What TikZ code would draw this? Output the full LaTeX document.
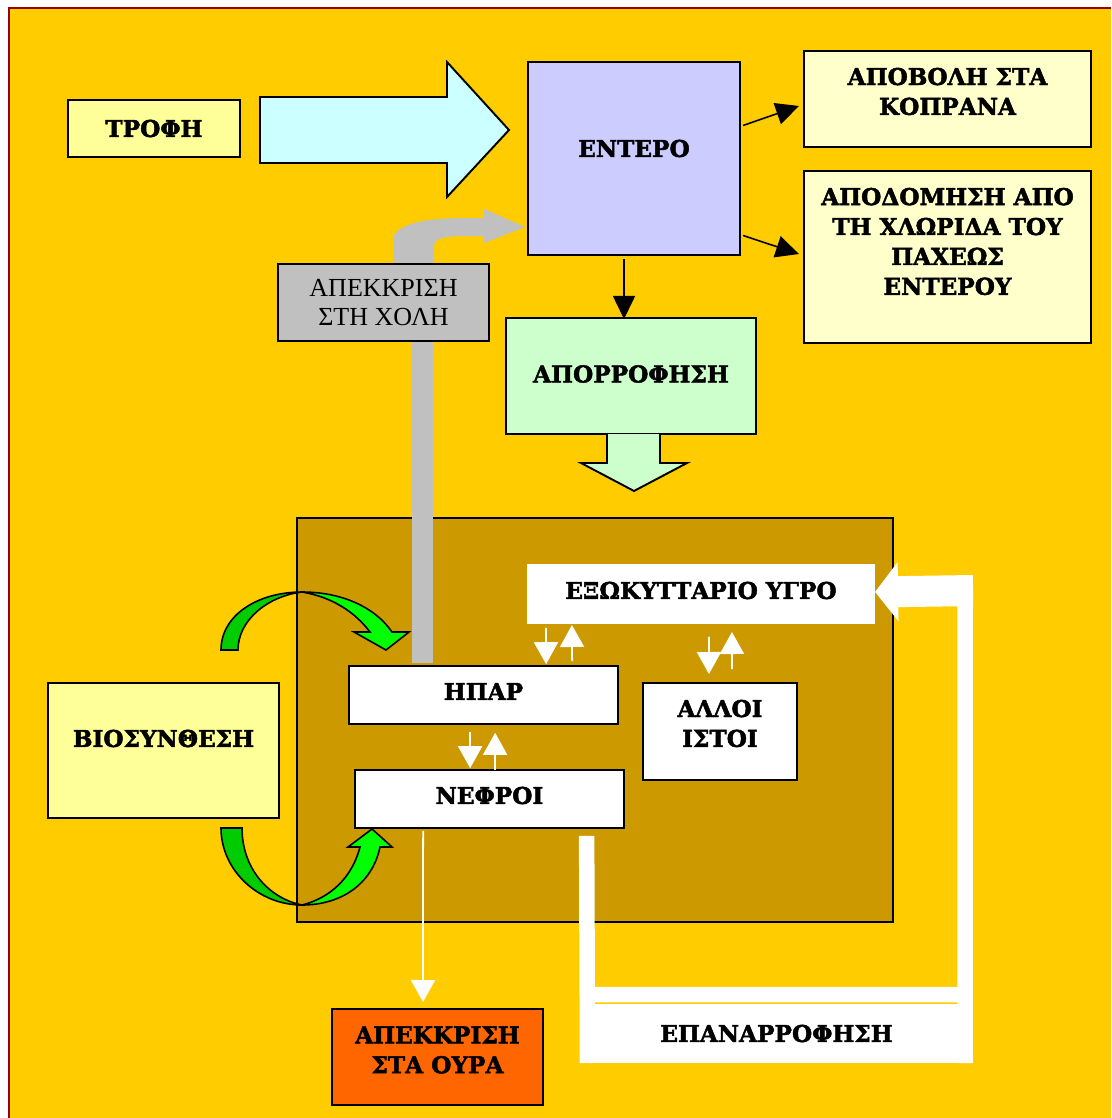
\documentclass[tikz,border=0pt]{standalone}
\usepackage{fontspec}
\setmainfont{DejaVu Serif}[BoldFeatures={FakeBold=2}]
\newfontfamily\timesfont{Liberation Serif}
\usepackage{tikz}
\usetikzlibrary{arrows.meta, calc, positioning}
\definecolor{bgorange}{HTML}{FFCC00}
\definecolor{pageline}{HTML}{990000}
\definecolor{bodybrown}{HTML}{CC9900}
\definecolor{foodyellow}{HTML}{FFFF99}
\definecolor{paleyellow}{HTML}{FFFFCC}
\definecolor{gutblue}{HTML}{CCCCFF}
\definecolor{foodcyan}{HTML}{CCFFFF}
\definecolor{absgreen}{HTML}{CCFFCC}
\definecolor{bilegray}{HTML}{C0C0C0}
\definecolor{urineorange}{HTML}{FF6600}
\definecolor{darkgreen}{HTML}{00CC00}
\definecolor{brightgreen}{HTML}{00FF00}

\begin{document}
\begin{tikzpicture}[x=0.01cm, y=-0.01cm,
    box/.style={draw=black, line width=0.55pt, inner sep=0pt, align=center,
                font=\fontsize{6.6pt}{8.5pt}\selectfont\bfseries},
    organ/.style={box, fill=white, line width=0.45pt},
    txt/.style={align=center, inner sep=0pt, font=\fontsize{6.6pt}{8.5pt}\selectfont\bfseries},
    arrow/.style={-{Triangle[length=0.23cm, width=0.22cm]}, line width=0.45pt},
    wharrow/.style={-{Triangle[length=0.22cm, width=0.24cm]}, draw=white, line width=0.5pt},
    retour/.style={draw=white, line width=0.155cm},
    blockarrow/.style={draw=black, line width=0.55pt, line join=miter}
]
\useasboundingbox (0,0) rectangle (1111,1118);
\fill[white] (0,0) rectangle (1111,1118);
\fill[bgorange] (9,8) rectangle (1111,1118);
\draw[pageline, line width=0.4pt] (9,1118) -- (9,8) -- (1111,8);

% body compartment
\node[draw=black, fill=bodybrown, line width=0.6pt, minimum width=5.96cm, minimum height=4.04cm] (soma) at (595,720) {};

% food arrow
\draw[blockarrow, fill=foodcyan] (260,97) -- (447,97) -- (447,62) -- (509,130) -- (447,197) -- (447,163) -- (260,163) -- cycle;

% bile
\fill[bilegray] (393,264) -- (393,240) .. controls (393,226) and (420,218) .. (464,218) -- (484,218) -- (484,209)
    -- (525,227) -- (484,243) -- (484,236) -- (464,236) .. controls (446,236) and (434,238) .. (434,246) -- (434,264) -- cycle;
\fill[bilegray] (412,341) rectangle (433,663);

\node[box, fill=foodyellow, minimum width=1.72cm, minimum height=0.57cm] (trofi) at (154,128.5) {ΤΡΟΦΗ};
\node[box, fill=gutblue, minimum width=2.12cm, minimum height=1.93cm,
      label={[txt, yshift=0.1cm]center:ΕΝΤΕΡΟ}] (entero) at (634,158.5) {};
\node[box, fill=paleyellow, minimum width=2.87cm, minimum height=0.96cm,
      label={[txt, yshift=0.075cm]center:ΑΠΟΒΟΛΗ ΣΤΑ\\ΚΟΠΡΑΝΑ}] (apovoli) at (947.5,99) {};
\node[box, fill=paleyellow, minimum width=2.87cm, minimum height=1.72cm,
      label={[txt, yshift=0.155cm]center:ΑΠΟΔΟΜΗΣΗ ΑΠΟ\\ΤΗ ΧΛΩΡΙΔΑ ΤΟΥ\\ΠΑΧΕΩΣ\\ΕΝΤΕΡΟΥ}] (apodomisi) at (947.5,257) {};
\node[box, fill=absgreen, minimum width=2.5cm, minimum height=1.16cm,
      label={[txt, yshift=0.02cm]center:ΑΠΟΡΡΟΦΗΣΗ}] (aporrofisi) at (631,376) {};
\node[box, fill=bilegray, minimum width=2.11cm, minimum height=0.77cm,
      font=\fontsize{7.4pt}{8.3pt}\selectfont\timesfont] (xoli) at (383.5,302.5) {ΑΠΕΚΚΡΙΣΗ\\ΣΤΗ ΧΟΛΗ};

% absorbed into the body
\draw[blockarrow, fill=absgreen] (607,434) -- (607,463) -- (581,463) -- (634,491) -- (687,463) -- (660,463) -- (660,434);

\node[box, fill=foodyellow, minimum width=2.31cm, minimum height=1.35cm,
      label={[txt, yshift=0.12cm]center:ΒΙΟΣΥΝΘΕΣΗ}] (bio) at (163.5,750.5) {};
\node[box, draw=none, fill=white, minimum width=3.48cm, minimum height=0.6cm,
      label={[txt, yshift=0.035cm]center:ΕΞΩΚΥΤΤΑΡΙΟ ΥΓΡΟ}] (exo) at (701,594) {};
\node[organ, minimum width=2.69cm, minimum height=0.58cm,
      label={[txt, yshift=0.035cm]center:ΗΠΑΡ}] (ipar) at (483.5,695) {};
\node[organ, minimum width=2.69cm, minimum height=0.58cm,
      label={[txt, yshift=0.035cm]center:ΝΕΦΡΟΙ}] (nefroi) at (489.5,799) {};
\node[organ, line width=0.55pt, minimum width=1.54cm, minimum height=0.97cm,
      label={[txt, yshift=0.08cm]center:ΑΛΛΟΙ\\ΙΣΤΟΙ}] (alloi) at (720,731.5) {};
\node[box, fill=urineorange, minimum width=2.11cm, minimum height=0.96cm,
      label={[txt, yshift=0.07cm]center:ΑΠΕΚΚΡΙΣΗ\\ΣΤΑ ΟΥΡΑ}] (oura) at (437.5,1057) {};

\draw[arrow] ($(entero.east)+(2,-33)$) -- ($(apovoli.west)+(-4,7)$);
\draw[arrow] ($(entero.east)+(2,77)$) -- ($(apodomisi.west)+(-4,-3)$);
\draw[arrow] ($(entero.south)+(-10,3)$) -- ($(aporrofisi.north)+(-7,2)$);

\draw[wharrow] ($(exo.south west)+(20,3)$) -- ($(ipar.north west)+(198,-1)$);
\draw[wharrow] ($(ipar.north west)+(224,-4)$) -- ($(exo.south west)+(46,0)$);
\draw[wharrow] ($(ipar.south west)+(122,7)$) -- ($(nefroi.north west)+(116,-1)$);
\draw[wharrow] ($(nefroi.north west)+(141,1)$) -- ($(ipar.south west)+(147,8)$);
\draw[wharrow] ($(exo.south west)+(183,12)$) -- ($(alloi.north west)+(67,-8)$);
\draw[wharrow] ($(alloi.north west)+(90,-13)$) -- ($(exo.south west)+(206,7)$);
\draw[wharrow] ($(nefroi.south west)+(69,2)$) -- ($(oura.north west)+(92,-6)$);

% reabsorption loop
\coordinate (loopstart) at ($(nefroi.south west)+(232.5,7)$);
\draw[retour] (loopstart) -- (587.5,1063) (580,994.5) -- (972,994.5) (965,1063) -- (965,575);
\draw[retour, line width=0.31cm, -{Triangle[length=0.23cm, width=0.58cm]}] (973,590.5) -- ($(exo.east)+(-1,-2)$);
\node[fill=white, inner sep=0pt, minimum width=3.93cm, minimum height=0.59cm, txt] (epanarrofisi) at (776.5,1033.5) {ΕΠΑΝΑΡΡΟΦΗΣΗ};

% biosynthesis to liver
\draw[draw=black, line width=0.45pt, fill=darkgreen] (221,650) .. controls (221,615) and (258,592) .. (302,592)
    .. controls (268,596) and (238,620) .. (238,650) -- cycle;
\draw[draw=black, line width=0.45pt, fill=brightgreen] (302,592) .. controls (340,592) and (374,606) .. (392,632)
    -- (409,632) -- (386,650) -- (354,632) -- (370,632) .. controls (355,612) and (332,597) .. (302,592) -- cycle;
% biosynthesis to kidneys
\draw[draw=black, line width=0.45pt, fill=darkgreen] (221,828) .. controls (221,870) and (258,905) .. (302,905)
    .. controls (268,898) and (242,868) .. (242,828) -- cycle;
\draw[draw=black, line width=0.45pt, fill=brightgreen] (302,905) .. controls (340,905) and (372,885) .. (380,847)
    -- (392,847) -- (372,829) -- (348,847) -- (360,847) .. controls (352,878) and (330,898) .. (302,905) -- cycle;
\end{tikzpicture}
\end{document}
